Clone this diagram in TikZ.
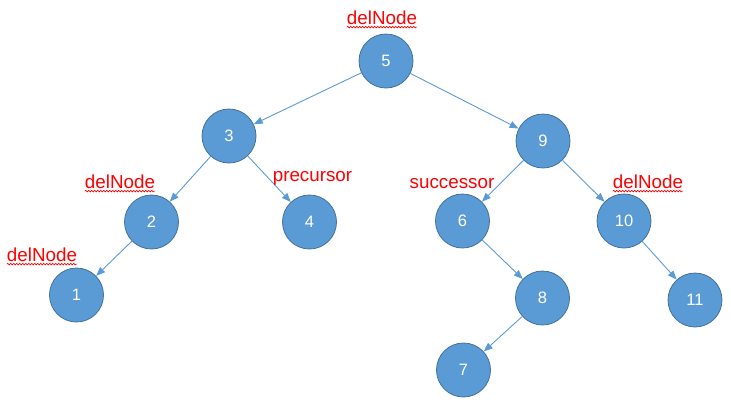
\documentclass[tikz,border=0pt]{standalone}
\usepackage{fontspec}
\setmainfont{Liberation Sans}
\usetikzlibrary{arrows.meta,decorations.pathmorphing}
\definecolor{nodefill}{HTML}{5B9BD5}
\definecolor{nodeline}{HTML}{41719C}
\definecolor{edgecol}{HTML}{5B9BD5}
\definecolor{lblred}{HTML}{FF0000}
\tikzset{
  tnode/.style={circle,fill=nodefill,draw=nodeline,line width=0.8pt,minimum size=54pt,inner sep=0pt,text=white,font=\fontsize{16.5}{18}\selectfont},
  tedge/.style={draw=edgecol,line width=0.9pt,-{Triangle[length=9pt,width=7pt]}},
  lbl/.style={text=lblred,font=\fontsize{18.8}{20}\selectfont,inner sep=0pt},
  squig/.style={draw=lblred,line width=0.6pt,decorate,decoration={snake,amplitude=0.8pt,segment length=3pt}}
}
\begin{document}
\begin{tikzpicture}[x=1pt,y=-1pt]
\useasboundingbox (0,0) rectangle (731,405);
\node[tnode] (n5) at (386,61) {5};
\node[tnode] (n3) at (229,136) {3};
\node[tnode] (n9) at (543,141) {9};
\node[tnode] (n2) at (151.5,222) {2};
\node[tnode] (n4) at (309.5,222) {4};
\node[tnode] (n6) at (462.5,221) {6};
\node[tnode] (n10) at (624,221) {10};
\node[tnode] (n1) at (76.5,295) {1};
\node[tnode] (n8) at (542.5,298) {8};
\node[tnode] (n11) at (695,300) {11};
\node[tnode] (n7) at (463.5,370) {7};
\draw[tedge] (n5) -- (n3);
\draw[tedge] (n5) -- (n9);
\draw[tedge] (n3) -- (n2);
\draw[tedge] (n3) -- (n4);
\draw[tedge] (n9) -- (n6);
\draw[tedge] (n9) -- (n10);
\draw[tedge] (n2) -- (n1);
\draw[tedge] (n6) -- (n8);
\draw[tedge] (n10) -- (n11);
\draw[tedge] (n8) -- (n7);
\node[lbl] (l5) at (382,18) {delNode};
\node[lbl] (l2) at (120,182) {delNode};
\node[lbl] (l1) at (42,255) {delNode};
\node[lbl] (l10) at (648,182) {delNode};
\node[lbl] (lp) at (312.5,178) {precursor};
\node[lbl] (ls) at (452,184) {successor};
\foreach \l in {l5,l2,l1,l10}{
  \draw[squig] ([yshift=-2pt]\l.south west) -- ([yshift=-2pt]\l.south east);
}
\end{tikzpicture}
\end{document}
